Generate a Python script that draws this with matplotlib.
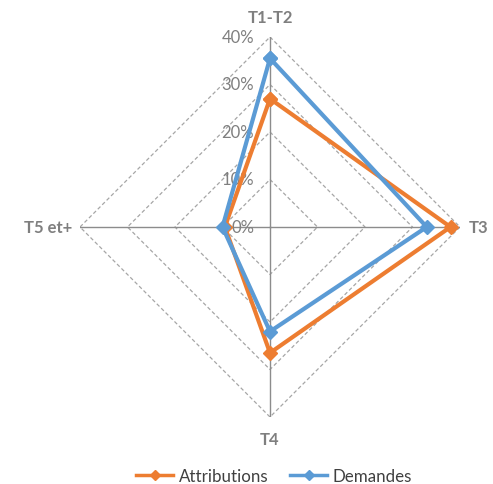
import numpy as np
import matplotlib
matplotlib.use("Agg")
import matplotlib.pyplot as plt
from matplotlib import transforms

plt.rcParams['font.family'] = ['Lato', 'DejaVu Sans']

# Données
categories = ['T1-T2', 'T3', 'T4', 'T5 et+']
attributions = [27, 38, 26.5, 9.5]
demandes = [35.5, 33, 22, 10]
niveaux = [10, 20, 30, 40]
niveaux_labels = ['0%', '10%', '20%', '30%', '40%']

orange = '#ED7D31'
bleu = '#5B9BD5'
gris_grille = '#A6A6A6'
gris_axe = '#8C8C8C'
gris_texte = '#7F7F7F'

fig = plt.figure(figsize=(4.93, 4.85), dpi=100)
ax = fig.add_axes([80/493, 67/485, 380/493, 380/485], projection='polar')
ax.set_theta_zero_location('N')
ax.set_theta_direction(-1)

angles = np.linspace(0, 2*np.pi, len(categories), endpoint=False)
angles_ferme = np.append(angles, angles[0])

# Grille en losange
for n in niveaux:
    ax.plot(angles_ferme, [n]*len(angles_ferme), color=gris_grille, lw=0.9,
            ls=(0, (3, 2)), zorder=1)
for a in angles:
    ax.plot([a, a], [0, niveaux[-1]], color=gris_axe, lw=1.0, zorder=1)

ax.set_ylim(0, 40)
ax.grid(False)
ax.spines['polar'].set_visible(False)
ax.set_xticks([])
ax.set_yticks([])

# Séries
ax.plot(angles_ferme, attributions + attributions[:1], color=orange, lw=3,
        marker='D', ms=7, label='Attributions', zorder=3)
ax.plot(angles_ferme, demandes + demandes[:1], color=bleu, lw=3,
        marker='D', ms=7, label='Demandes', zorder=4)

# Etiquettes des niveaux
decal = transforms.offset_copy(ax.transData, fig=fig, x=-16, y=0, units='dots')
for r, lab in zip([0] + niveaux, niveaux_labels):
    ax.text(0, r, lab, transform=decal, ha='right', va='center',
            fontsize=12, color=gris_texte, zorder=2)

# Etiquettes des catégories
offsets = [(0, 20, 'center', 'center'), (9, 0, 'left', 'center'),
           (0, -22, 'center', 'center'), (-8, 0, 'right', 'center')]
for a, cat, (dx, dy, ha, va) in zip(angles, categories, offsets):
    tr = transforms.offset_copy(ax.transData, fig=fig, x=dx, y=dy, units='dots')
    ax.text(a, 40, cat, transform=tr, ha=ha, va=va, fontsize=12,
            fontweight='bold', color=gris_texte)

leg = fig.legend(loc='center', bbox_to_anchor=(274/493, 1 - 477/485), ncol=2,
                 frameon=False, fontsize=12.2, handlelength=2.2,
                 handletextpad=0.3, columnspacing=1.3, labelcolor='#404040',
                 borderpad=0, markerscale=0.8)
for h in leg.legend_handles:
    h.set_linewidth(2.5)

fig.savefig('out.png', dpi=100)
